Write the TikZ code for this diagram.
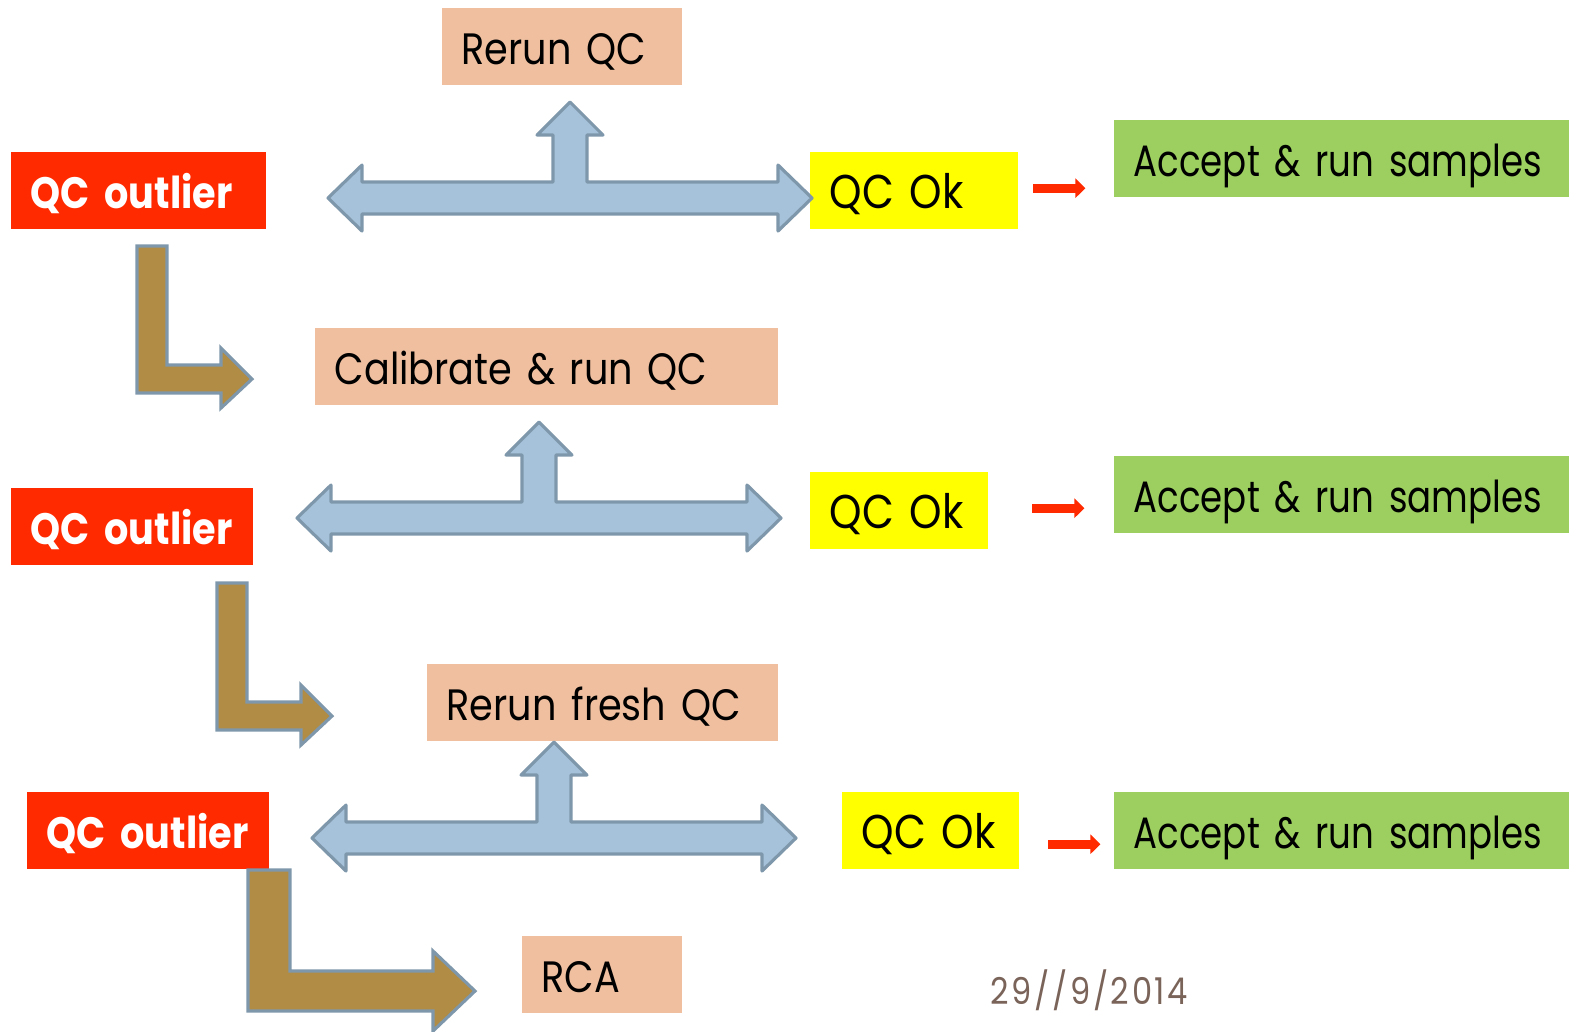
\documentclass[tikz,border=0pt]{standalone}
\usepackage{fontspec}
\setmainfont{Poppins}[FakeStretch=0.87]
\newfontfamily\accfont{Poppins}[FakeStretch=0.81]
\newfontfamily\datefont{Poppins}[FakeStretch=0.87, LetterSpace=7]
\usetikzlibrary{arrows.meta}

\definecolor{outred}{HTML}{FF2A00}
\definecolor{peach}{HTML}{EFBFA0}
\definecolor{okyellow}{HTML}{FFFF00}
\definecolor{accgreen}{HTML}{9CCF5F}
\definecolor{arrblue}{HTML}{A6C2DB}
\definecolor{arredge}{HTML}{7F97AA}
\definecolor{arrbrown}{HTML}{B08C45}
\definecolor{datebrown}{HTML}{7A6359}

\tikzset{
    box/.style={rectangle, anchor=north west, inner xsep=0.2cm, inner ysep=0pt,
        minimum height=0.77cm, text height=10.6pt, text depth=0pt, align=left,
        font=\fontsize{12.5}{15}\selectfont},
    outlier/.style={box, fill=outred, text=white, font=\fontsize{12.5}{15}\selectfont\bfseries},
    stepbox/.style={box, fill=peach},
    okbox/.style={box, fill=okyellow, font=\fontsize{13.5}{15}\selectfont},
    accbox/.style={box, fill=accgreen, font=\fontsize{12.5}{15}\accfont},
    bluearr/.style={fill=arrblue, draw=arredge, line width=0.9pt, line join=round},
    brownarr/.style={fill=arrbrown, draw=arredge, line width=0.9pt, line join=miter},
    redarr/.style={draw=outred, line width=0.09cm, -{Triangle[length=0.1cm, width=0.19cm]}},
    tarrow/.pic={
        \draw [bluearr] (0,0) -- (34,-33) -- (34,-16) -- (225,-16) -- (225,-63) -- (209,-63)
            -- (242,-96) -- (275,-63) -- (259,-63) -- (259,-16) -- (450,-16) -- (450,-33)
            -- (484,0) -- (450,33) -- (450,16) -- (34,16) -- (34,33) -- cycle;
    },
    larrow/.pic={
        \draw [brownarr] (0,0) -- (0,-147) -- (30,-147) -- (30,-28) -- (84,-28) -- (84,-45)
            -- (115,-14) -- (84,15) -- (84,0) -- cycle;
    }
}

\begin{document}
\begin{tikzpicture}[x=0.1mm, y=-0.1mm]
            \useasboundingbox (0,0) rectangle (1570,1031);

            % first round
            \node [stepbox, text width=2.0cm] (rerun) at (441,7) {Rerun QC};
            \node [outlier, text width=2.15cm] (out1) at (10,151) {QC outlier};
            \node [okbox, text width=1.68cm] (ok1) at (809,151) {QC Ok};
            \node [accbox, text width=4.15cm] (acc1) at (1113,119) {Accept \& run samples};
            \pic at (328,198) {tarrow};
            \draw [redarr] ([xshift=0.15cm,yshift=0.02cm]ok1.east) -- ++(0.52cm,0);
            \pic at (137,393) {larrow};

            % second round
            \node [stepbox, text width=4.23cm] (calib) at (314,327) {Calibrate \& run QC};
            \node [outlier, text width=2.02cm] (out2) at (10,487) {QC outlier};
            \node [okbox, text width=1.38cm] (ok2) at (809,471) {QC Ok};
            \node [accbox, text width=4.15cm] (acc2) at (1113,455) {Accept \& run samples};
            \pic at (297,518) {tarrow};
            \draw [redarr] ([xshift=0.44cm,yshift=0.02cm]ok2.east) -- ++(0.52cm,0);
            \pic at (217,730) {larrow};

            % third round
            \node [stepbox, text width=3.11cm] (fresh) at (426,663) {Rerun fresh QC};
            \node [outlier, text width=2.02cm] (out3) at (26,791) {QC outlier};
            \node [okbox, text width=1.37cm] (ok3) at (841,791) {QC Ok};
            \node [accbox, text width=4.15cm] (acc3) at (1113,791) {Accept \& run samples};
            \pic at (312,838) {tarrow};
            \draw [redarr] ([xshift=0.29cm,yshift=-0.14cm]ok3.east) -- ++(0.52cm,0);
            \draw [brownarr] (248,1011) -- (248,870) -- (290,870) -- (290,971) -- (433,971)
                -- (433,951) -- (475,991) -- (433,1031) -- (433,1011) -- cycle;
            \node [stepbox, text width=1.2cm] (rca) at (521,935) {RCA};

            \node [anchor=base west, inner sep=0pt, text=datebrown,
                font=\fontsize{10.5}{12}\datefont] (date) at (990,1004) {29//9/2014};
        \end{tikzpicture}
\end{document}
